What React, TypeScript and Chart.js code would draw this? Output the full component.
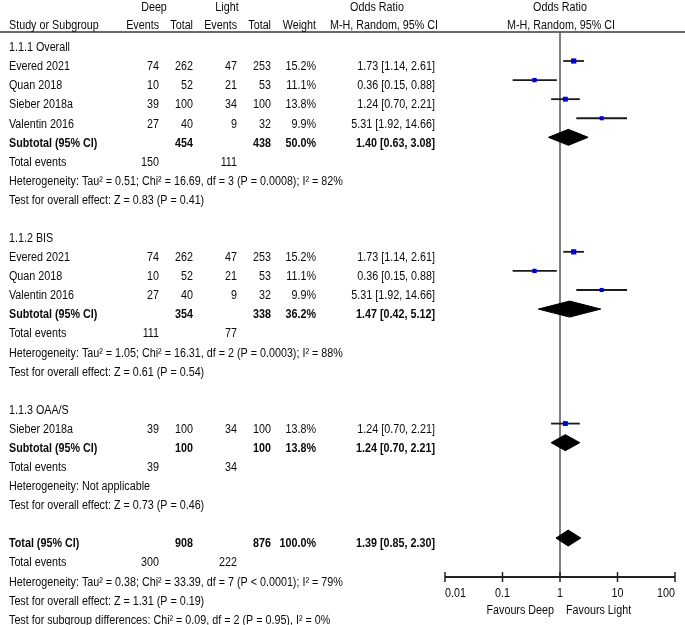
import React, { useEffect, useRef } from "react";
import { Chart, registerables } from "chart.js";

Chart.register(...registerables);

// ---------- data ----------
const SUBGROUP_NAMES = ["1.1.1 Overall", "1.1.2 BIS", "1.1.3 OAA/S"];
const SUBGROUP_ROWS = [0, 10, 19];

const STUDY_NAMES = ["Evered 2021", "Quan 2018", "Sieber 2018a", "Valentin 2016", "Evered 2021", "Quan 2018", "Valentin 2016", "Sieber 2018a"];
const STUDY_ROWS = [1, 2, 3, 4, 11, 12, 13, 20];
const DEEP_EVENTS = [74, 10, 39, 27, 74, 10, 27, 39];
const DEEP_TOTAL = [262, 52, 100, 40, 262, 52, 40, 100];
const LIGHT_EVENTS = [47, 21, 34, 9, 47, 21, 9, 34];
const LIGHT_TOTAL = [253, 53, 100, 32, 253, 53, 32, 100];
const WEIGHTS = [15.2, 11.1, 13.8, 9.9, 15.2, 11.1, 9.9, 13.8];
const ODDS = [1.73, 0.36, 1.24, 5.31, 1.73, 0.36, 5.31, 1.24];
const CI_LOW = [1.14, 0.15, 0.7, 1.92, 1.14, 0.15, 1.92, 0.7];
const CI_HIGH = [2.61, 0.88, 2.21, 14.66, 2.61, 0.88, 14.66, 2.21];

const POOLED_LABELS = ["Subtotal (95% CI)", "Subtotal (95% CI)", "Subtotal (95% CI)", "Total (95% CI)"];
const POOLED_ROWS = [5, 14, 21, 26];
const POOLED_DEEP_TOTAL = [454, 354, 100, 908];
const POOLED_LIGHT_TOTAL = [438, 338, 100, 876];
const POOLED_WEIGHTS = [50.0, 36.2, 13.8, 100.0];
const POOLED_ODDS = [1.4, 1.47, 1.24, 1.39];
const POOLED_LOW = [0.63, 0.42, 0.7, 0.85];
const POOLED_HIGH = [3.08, 5.12, 2.21, 2.3];

const TOTAL_EVENT_ROWS = [6, 15, 22, 27];
const TOTAL_EVENTS_DEEP = [150, 111, 39, 300];
const TOTAL_EVENTS_LIGHT = [111, 77, 34, 222];

const HETERO_ROWS = [7, 16, 23, 28];
const HETERO_TEXT = [
  "Heterogeneity: Tau² = 0.51; Chi² = 16.69, df = 3 (P = 0.0008); I² = 82%",
  "Heterogeneity: Tau² = 1.05; Chi² = 16.31, df = 2 (P = 0.0003); I² = 88%",
  "Heterogeneity: Not applicable",
  "Heterogeneity: Tau² = 0.38; Chi² = 33.39, df = 7 (P < 0.0001); I² = 79%",
];
const EFFECT_ROWS = [8, 17, 24, 29];
const EFFECT_TEXT = [
  "Test for overall effect: Z = 0.83 (P = 0.41)",
  "Test for overall effect: Z = 0.61 (P = 0.54)",
  "Test for overall effect: Z = 0.73 (P = 0.46)",
  "Test for overall effect: Z = 1.31 (P = 0.19)",
];
const SUBGROUP_TEST_ROW = 30;
const SUBGROUP_TEST_TEXT = "Test for subgroup differences: Chi² = 0.09, df = 2 (P = 0.95), I² = 0%";

const AXIS_TICKS = [0.01, 0.1, 1, 10, 100];
const AXIS_TICK_LABELS = ["0.01", "0.1", "1", "10", "100"];
const FAVOURS_LEFT = "Favours Deep";
const FAVOURS_RIGHT = "Favours Light";

// ---------- styles / layout ----------
const FONT = '"Liberation Sans", Arial, Helvetica, sans-serif';
const FONT_PX = 12.5;
const TEXT_SX = 0.86;
const TEXT_COLOR = "#0a0a0a";
const BASE_OFF = 9.3;
const COL = {
  study: 9,
  deepEv: 159,
  deepTot: 193,
  lightEv: 237,
  lightTot: 271,
  weight: 316,
  orText: 435,
};
const DIAMOND_HALF = 0.42; // in row units

const fmt2 = (v: number) => v.toFixed(2);
const orLabel = (o: number, l: number, h: number) => `${fmt2(o)} [${fmt2(l)}, ${fmt2(h)}]`;

function txt(ctx: CanvasRenderingContext2D, s: string, x: number, y: number, align: CanvasTextAlign, bold = false) {
  ctx.save();
  ctx.translate(x, y);
  ctx.scale(TEXT_SX, 1);
  ctx.font = `${bold ? "bold " : ""}${FONT_PX}px ${FONT}`;
  ctx.textAlign = align;
  ctx.textBaseline = "alphabetic";
  ctx.fillStyle = TEXT_COLOR;
  ctx.fillText(s, 0, 0);
  ctx.restore();
}

const forestPlugin = {
  id: "forestDecor",
  beforeDatasetsDraw(chart: any) {
    const { ctx, chartArea, scales } = chart;
    const x1 = scales.x.getPixelForValue(1);
    ctx.save();
    ctx.strokeStyle = "#3a3a3a";
    ctx.lineWidth = 1.5;
    ctx.beginPath();
    ctx.moveTo(0, chartArea.top);
    ctx.lineTo(chart.width, chartArea.top);
    ctx.stroke();
    ctx.strokeStyle = "#555";
    ctx.lineWidth = 1.5;
    ctx.beginPath();
    ctx.moveTo(x1, chartArea.top);
    ctx.lineTo(x1, chartArea.bottom);
    ctx.stroke();
    ctx.restore();
  },
  afterDraw(chart: any) {
    const { ctx, chartArea, scales } = chart;
    const xs = scales.x;
    const ys = scales.y;
    const rowBase = (r: number) => ys.getPixelForValue(r) + BASE_OFF;
    const x1 = xs.getPixelForValue(1);

    const ay = chartArea.bottom;
    ctx.save();
    ctx.strokeStyle = "#222";
    ctx.lineWidth = 2;
    ctx.beginPath();
    ctx.moveTo(xs.getPixelForValue(AXIS_TICKS[0]), ay);
    ctx.lineTo(xs.getPixelForValue(AXIS_TICKS[AXIS_TICKS.length - 1]), ay);
    ctx.stroke();
    ctx.lineWidth = 1.5;
    AXIS_TICKS.forEach((t, i) => {
      const px = xs.getPixelForValue(t);
      ctx.beginPath();
      ctx.moveTo(px, ay - 5);
      ctx.lineTo(px, ay + 5);
      ctx.stroke();
      const align: CanvasTextAlign = i === 0 ? "left" : i === AXIS_TICKS.length - 1 ? "right" : "center";
      txt(ctx, AXIS_TICK_LABELS[i], px, ay + 19.5, align);
    });
    ctx.restore();
    txt(ctx, FAVOURS_LEFT, x1 - 6, ay + 36.5, "right");
    txt(ctx, FAVOURS_RIGHT, x1 + 6, ay + 36.5, "left");

    txt(ctx, "Deep", 154, 10.5, "center");
    txt(ctx, "Light", 227, 10.5, "center");
    txt(ctx, "Odds Ratio", 377, 10.5, "center");
    txt(ctx, "Odds Ratio", x1, 10.5, "center");
    txt(ctx, "Study or Subgroup", COL.study, 29, "left");
    txt(ctx, "Events", COL.deepEv, 29, "right");
    txt(ctx, "Total", COL.deepTot, 29, "right");
    txt(ctx, "Events", COL.lightEv, 29, "right");
    txt(ctx, "Total", COL.lightTot, 29, "right");
    txt(ctx, "Weight", COL.weight, 29, "right");
    txt(ctx, "M-H, Random, 95% CI", 384, 29, "center");
    txt(ctx, "M-H, Random, 95% CI", x1 + 1, 29, "center");

    SUBGROUP_NAMES.forEach((s, i) => txt(ctx, s, COL.study, rowBase(SUBGROUP_ROWS[i]), "left"));

    STUDY_NAMES.forEach((s, i) => {
      const y = rowBase(STUDY_ROWS[i]);
      txt(ctx, s, COL.study, y, "left");
      txt(ctx, String(DEEP_EVENTS[i]), COL.deepEv, y, "right");
      txt(ctx, String(DEEP_TOTAL[i]), COL.deepTot, y, "right");
      txt(ctx, String(LIGHT_EVENTS[i]), COL.lightEv, y, "right");
      txt(ctx, String(LIGHT_TOTAL[i]), COL.lightTot, y, "right");
      txt(ctx, WEIGHTS[i].toFixed(1) + "%", COL.weight, y, "right");
      txt(ctx, orLabel(ODDS[i], CI_LOW[i], CI_HIGH[i]), COL.orText, y, "right");
    });

    POOLED_LABELS.forEach((s, i) => {
      const y = rowBase(POOLED_ROWS[i]);
      txt(ctx, s, COL.study, y, "left", true);
      txt(ctx, String(POOLED_DEEP_TOTAL[i]), COL.deepTot, y, "right", true);
      txt(ctx, String(POOLED_LIGHT_TOTAL[i]), COL.lightTot, y, "right", true);
      txt(ctx, POOLED_WEIGHTS[i].toFixed(1) + "%", COL.weight, y, "right", true);
      txt(ctx, orLabel(POOLED_ODDS[i], POOLED_LOW[i], POOLED_HIGH[i]), COL.orText, y, "right", true);
    });

    TOTAL_EVENT_ROWS.forEach((r, i) => {
      const y = rowBase(r);
      txt(ctx, "Total events", COL.study, y, "left");
      txt(ctx, String(TOTAL_EVENTS_DEEP[i]), COL.deepEv, y, "right");
      txt(ctx, String(TOTAL_EVENTS_LIGHT[i]), COL.lightEv, y, "right");
    });
    HETERO_ROWS.forEach((r, i) => txt(ctx, HETERO_TEXT[i], COL.study, rowBase(r), "left"));
    EFFECT_ROWS.forEach((r, i) => txt(ctx, EFFECT_TEXT[i], COL.study, rowBase(r), "left"));
    txt(ctx, SUBGROUP_TEST_TEXT, COL.study, rowBase(SUBGROUP_TEST_ROW), "left");
  },
};

export default function App() {
  const ref = useRef<HTMLCanvasElement | null>(null);
  useEffect(() => {
    if (!ref.current) return;
    const datasets: any[] = [];
    datasets.push({
      type: "scatter",
      data: STUDY_ROWS.map((r, i) => ({ x: ODDS[i], y: r })),
      pointStyle: "rect",
      pointRadius: WEIGHTS.map((w) => 1.4 + w * 0.15),
      backgroundColor: "#0000dd",
      borderWidth: 0,
      order: 0,
    });
    STUDY_ROWS.forEach((r, i) => {
      datasets.push({
        type: "scatter",
        data: [
          { x: CI_LOW[i], y: r },
          { x: CI_HIGH[i], y: r },
        ],
        showLine: true,
        borderColor: "#1a1a1a",
        borderWidth: 1.8,
        pointRadius: 0,
        order: 1,
      });
    });
    POOLED_ROWS.forEach((r, i) => {
      datasets.push({
        type: "scatter",
        data: [
          { x: POOLED_LOW[i], y: r },
          { x: POOLED_ODDS[i], y: r - DIAMOND_HALF },
          { x: POOLED_HIGH[i], y: r },
          { x: POOLED_ODDS[i], y: r + DIAMOND_HALF },
          { x: POOLED_LOW[i], y: r },
        ],
        showLine: true,
        fill: "shape",
        backgroundColor: "#000",
        borderColor: "#000",
        borderWidth: 1,
        pointRadius: 0,
        tension: 0,
        order: 1,
      });
    });

    const chart = new Chart(ref.current, {
      type: "scatter",
      data: { datasets },
      options: {
        animation: false,
        responsive: true,
        maintainAspectRatio: false,
        devicePixelRatio: 1,
        events: [],
        layout: { padding: { left: 445, right: 10, top: 32, bottom: 48 } },
        plugins: { legend: { display: false }, tooltip: { enabled: false } },
        scales: {
          x: { type: "logarithmic", min: 0.01, max: 100, display: false },
          y: { type: "linear", min: -0.52, max: 28.04, reverse: true, display: false },
        },
      } as any,
      plugins: [forestPlugin as any],
    });
    return () => chart.destroy();
  }, []);

  return (
    <div style={{ position: "fixed", left: 0, top: 0, width: 685, height: 625, background: "#fff" }}>
      <canvas ref={ref} />
    </div>
  );
}
